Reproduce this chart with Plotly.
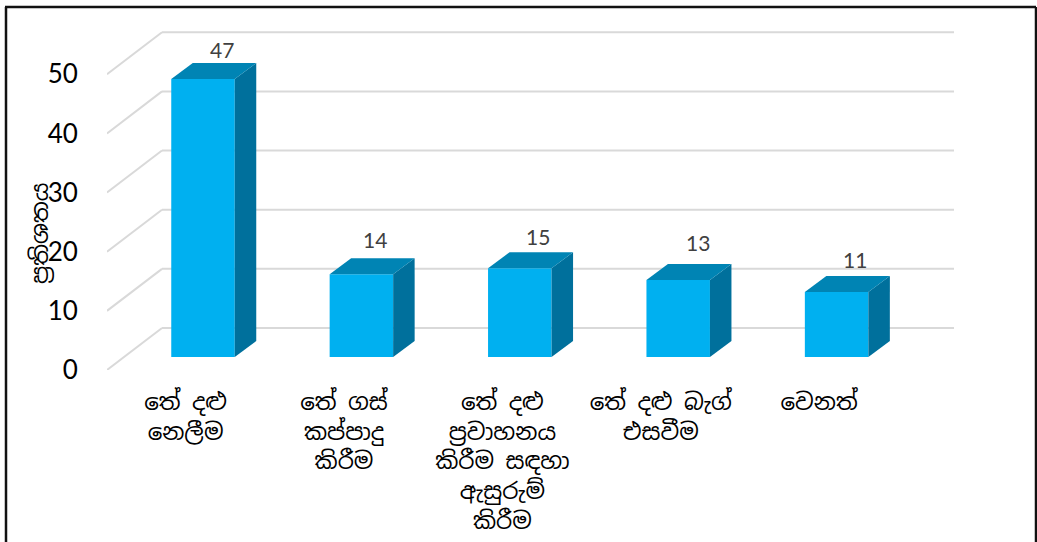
import plotly.graph_objects as go

categories = ["තේ දළු<br>නෙලීම", "තේ ගස්<br>කප්පාදු<br>කිරීම",
              "තේ දළු<br>ප්‍රවාහනය<br>කිරීම සඳහා<br>ඇසුරුම්<br>කිරීම",
              "තේ දළු බැග්<br>එසවීම", "වෙනත්"]
values = [47, 14, 15, 13, 11]
y_ticks = [0, 10, 20, 30, 40, 50]
y_title = "ප්‍රතිශතය"

W, H = 1037, 542
PX_L, PX_R, PX_T, PX_B = 107, 954, 20, 370
X_UNIT, Y_UNIT = 158.4, 5.915
X_ZERO = 203

x_range = [(PX_L - X_ZERO) / X_UNIT, (PX_R - X_ZERO) / X_UNIT]
y_range = [0, (PX_B - PX_T) / Y_UNIT]
xs = list(range(len(values)))

bar_w = 63.5 / X_UNIT
base = 13 / Y_UNIT
dx, dy = 21.5 / X_UNIT, 16 / Y_UNIT
floor_dx, floor_dy = 55 / X_UNIT, 42 / Y_UNIT

FRONT, TOP, SIDE, GRID = "#00B0F0", "#0084B4", "#00709C", "#D9D9D9"
SANS = "Lato, Noto Sans, sans-serif"
SINHALA = "Noto Sans Sinhala, Noto Sans, sans-serif"

fig = go.Figure()
fig.add_trace(go.Bar(x=xs, y=values, base=base, width=bar_w, marker=dict(color=FRONT, line=dict(width=0)),
                     showlegend=False, hoverinfo="skip"))
for x, v in zip(xs, values):
    l, r = x - bar_w / 2, x + bar_w / 2
    lo, hi = base, base + v
    fig.add_trace(go.Scatter(x=[r, r + dx, r + dx, r, r], y=[lo, lo + dy, hi + dy, hi, lo],
                             mode="lines", fill="toself", fillcolor=SIDE, line=dict(width=0),
                             showlegend=False, hoverinfo="skip"))
    fig.add_trace(go.Scatter(x=[l, r, r + dx, l + dx, l], y=[hi, hi, hi + dy, hi + dy, hi],
                             mode="lines", fill="toself", fillcolor=TOP, line=dict(width=0),
                             showlegend=False, hoverinfo="skip"))

shapes = []
for t in y_ticks:
    shapes.append(dict(type="line", xref="x", yref="y", layer="below",
                       x0=x_range[0], y0=t, x1=x_range[0] + floor_dx, y1=t + floor_dy,
                       line=dict(color=GRID, width=2)))
    shapes.append(dict(type="line", xref="x", yref="y", layer="below",
                       x0=x_range[0] + floor_dx, y0=t + floor_dy, x1=x_range[1], y1=t + floor_dy,
                       line=dict(color=GRID, width=2)))
# chart frame (open at the bottom, the picture crops it)
for (x0, y0, x1, y1) in [(5, 7, 1036, 7), (6, 7, 6, H), (1036, 7, 1036, H)]:
    shapes.append(dict(type="line", xref="paper", yref="paper",
                       x0=(x0 - PX_L) / (PX_R - PX_L), x1=(x1 - PX_L) / (PX_R - PX_L),
                       y0=(PX_B - y0) / (PX_B - PX_T), y1=(PX_B - y1) / (PX_B - PX_T),
                       line=dict(color="#111111", width=2.5)))

label_shift_x = [0, -5, 0, 1, 0]
label_shift_y = [14, 19, 16, 22, 16]
annotations = [dict(x=x + dx / 2 + 0.05, y=base + v + dy, xref="x", yref="y",
                    text=str(v), showarrow=False, xanchor="center", yanchor="middle",
                    xshift=sx, yshift=sy, font=dict(family=SANS, size=21, color="#404040"))
               for x, v, sx, sy in zip(xs, values, label_shift_x, label_shift_y)]
annotations.append(dict(x=(40 - PX_L) / (PX_R - PX_L), y=(PX_B - 233) / (PX_B - PX_T),
                        xref="paper", yref="paper", text=y_title, textangle=-90, showarrow=False,
                        xanchor="center", yanchor="middle",
                        font=dict(family=SINHALA, size=23, color="#000000")))

fig.update_layout(
    width=W, height=H, autosize=False,
    margin=dict(l=PX_L, r=W - PX_R, t=PX_T, b=H - PX_B, pad=0),
    paper_bgcolor="white", plot_bgcolor="rgba(0,0,0,0)",
    showlegend=False, shapes=shapes, annotations=annotations,
    xaxis=dict(range=x_range, tickmode="array", tickvals=[x - 0.11 for x in xs], ticktext=categories,
               automargin=False,
               showgrid=False, zeroline=False, showline=False, ticks="outside", ticklen=11,
               tickcolor="rgba(0,0,0,0)", tickangle=0,
               tickfont=dict(family=SINHALA, size=23, color="#000000")),
    yaxis=dict(range=y_range, tickmode="array", tickvals=y_ticks, automargin=False,
               showgrid=False, zeroline=False,
               showline=False, ticks="outside", ticklen=23, tickcolor="rgba(0,0,0,0)",
               tickfont=dict(family=SANS, size=26, color="#000000")),
)
fig.write_html("out.html", config=dict(displayModeBar=False, responsive=False),
               post_script="document.body.style.margin='0';")
